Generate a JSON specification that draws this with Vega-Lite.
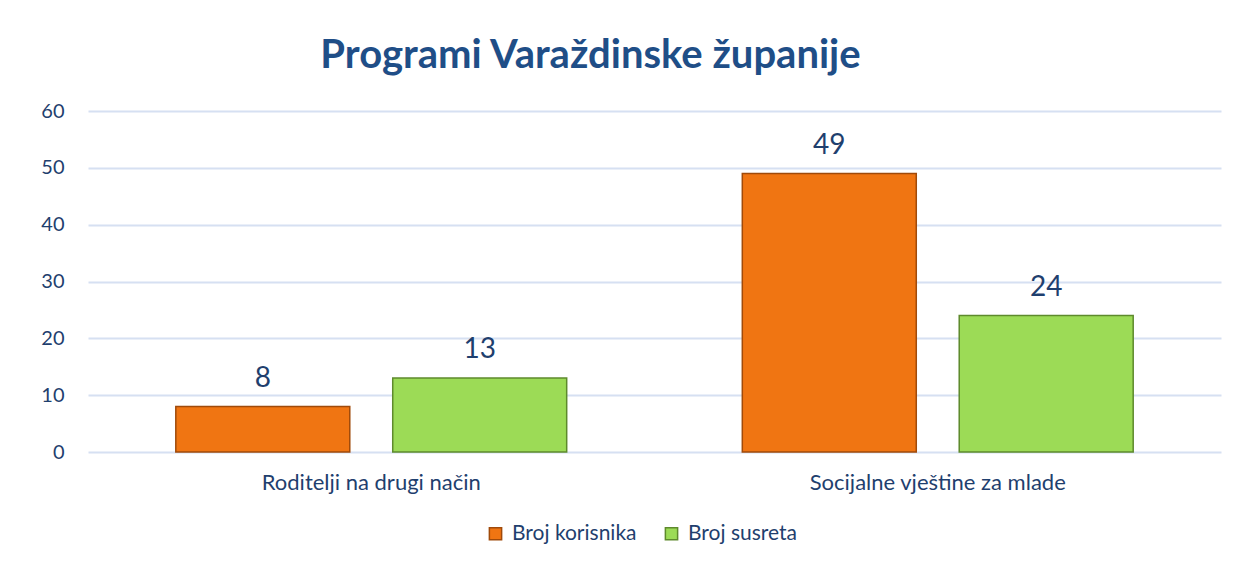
{
  "$schema": "https://vega.github.io/schema/vega-lite/v6.json",
  "autosize": {"type": "none"},
  "width": 1133,
  "height": 341,
  "padding": {"left": 88, "top": 111, "right": 24, "bottom": 117},
  "background": "white",
  "config": {"view": {"stroke": null}},
  "title": {
    "text": "Programi Varaždinske županije",
    "font": "Lato",
    "fontSize": 40,
    "fontWeight": "bold",
    "color": "#1F4E87",
    "anchor": "middle",
    "frame": "group",
    "dx": -64,
    "offset": 25
  },
  "data": {
    "values": [
      {"program": "Roditelji na drugi način", "serija": "Broj korisnika", "vrijednost": 8},
      {"program": "Roditelji na drugi način", "serija": "Broj susreta", "vrijednost": 13},
      {"program": "Socijalne vještine za mlade", "serija": "Broj korisnika", "vrijednost": 49},
      {"program": "Socijalne vještine za mlade", "serija": "Broj susreta", "vrijednost": 24}
    ]
  },
  "encoding": {
    "x": {
      "field": "program",
      "type": "nominal",
      "sort": null,
      "title": null,
      "scale": {"paddingInner": 0.31, "paddingOuter": 0.155},
      "axis": {
        "labelAngle": 0,
        "labelFont": "Lato",
        "labelFontSize": 22,
        "labelColor": "#1F3F6E",
        "labelPadding": 20,
        "labelLimit": 0,
        "ticks": false,
        "domain": false
      }
    },
    "xOffset": {
      "field": "serija",
      "type": "nominal",
      "sort": ["Broj korisnika", "Broj susreta"],
      "scale": {"paddingInner": 0.198, "paddingOuter": 0}
    },
    "y": {
      "field": "vrijednost",
      "type": "quantitative",
      "title": null,
      "scale": {"domain": [0, 60], "nice": false},
      "axis": {
        "values": [0, 10, 20, 30, 40, 50, 60],
        "labelFont": "Lato",
        "labelFontSize": 20,
        "labelColor": "#1F3F6E",
        "labelPadding": 24,
        "ticks": false,
        "domain": false,
        "gridColor": "#D6E0F2",
        "gridWidth": 2
      }
    }
  },
  "layer": [
    {
      "mark": {"type": "bar", "strokeWidth": 1.5, "fillOpacity": 1},
      "encoding": {
        "color": {
          "field": "serija",
          "type": "nominal",
          "sort": ["Broj korisnika", "Broj susreta"],
          "scale": {"domain": ["Broj korisnika", "Broj susreta"], "range": ["#F07512", "#9CDB56"]},
          "legend": {
            "title": null,
            "orient": "none",
            "direction": "horizontal",
            "legendX": 397,
            "legendY": 412,
            "symbolType": "square",
            "symbolSize": 150,
            "symbolStrokeWidth": 1.5,
            "labelFont": "Lato",
            "labelFontSize": 21,
            "labelColor": "#1F3F6E",
            "labelOffset": 6,
            "columnPadding": 24
          }
        },
        "stroke": {
          "field": "serija",
          "type": "nominal",
          "sort": ["Broj korisnika", "Broj susreta"],
          "scale": {"domain": ["Broj korisnika", "Broj susreta"], "range": ["#A04A0A", "#5E8A2C"]}
        }
      }
    },
    {
      "mark": {"type": "text", "baseline": "bottom", "dy": -14, "font": "Lato", "fontSize": 28, "color": "#1F3F6E"},
      "encoding": {
        "text": {"field": "vrijednost", "type": "quantitative"}
      }
    }
  ]
}
